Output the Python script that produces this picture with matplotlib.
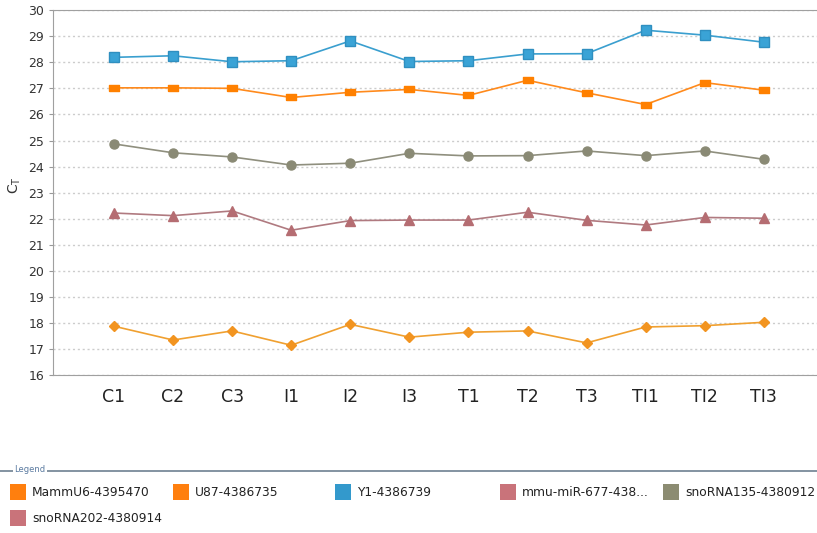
import numpy as np
import matplotlib.pyplot as plt
from matplotlib.patches import Rectangle
from matplotlib.lines import Line2D

samples = ["C1", "C2", "C3", "I1", "I2", "I3", "T1", "T2", "T3", "TI1", "TI2", "TI3"]

y1 = [28.19, 28.25, 28.02, 28.06, 28.82, 28.03, 28.06, 28.32, 28.33, 29.23, 29.04, 28.77]
u87 = [27.02, 27.02, 27.00, 26.65, 26.85, 26.96, 26.73, 27.31, 26.83, 26.38, 27.22, 26.93]
sno135 = [24.87, 24.53, 24.37, 24.06, 24.13, 24.51, 24.41, 24.42, 24.60, 24.42, 24.60, 24.28]
mir677 = [22.22, 22.12, 22.30, 21.56, 21.93, 21.95, 21.95, 22.25, 21.94, 21.76, 22.05, 22.02]
mammu6 = [17.88, 17.35, 17.70, 17.15, 17.95, 17.46, 17.65, 17.70, 17.24, 17.85, 17.90, 18.03]

legend_names = ["MammU6-4395470", "U87-4386735", "Y1-4386739",
                "mmu-miR-677-438...", "snoRNA135-4380912", "snoRNA202-4380914"]
legend_colors = ["#ff7f0e", "#ff7f0e", "#3399cc", "#c9737a", "#8c8c72", "#c9737a"]

x = np.arange(len(samples))

fig = plt.figure(figsize=(8.17, 5.33), dpi=100)
ax = fig.add_axes([0.065, 0.296, 0.935, 0.685])

ax.plot(x, y1, color="#3a9fcf", lw=1.2, marker="s", ms=6.5, mec="#2f8fc0", mfc="#3aa3d6")
# U87 uses flat rectangles instead of squares
flat = [(-1, -0.5), (1, -0.5), (1, 0.5), (-1, 0.5), (-1, -0.5)]
ax.plot(x, u87, color="#ff8a1c", lw=1.2, marker=flat, ms=7.5, mfc="#ff8000", mec="#ff8000")
ax.plot(x, sno135, color="#8f8f7e", lw=1.2, marker="o", ms=6.5, mfc="#8a8a75", mec="#8a8a75")
ax.plot(x, mir677, color="#b07a80", lw=1.2, marker="^", ms=6.5, mfc="#b56d72", mec="#b56d72")
ax.plot(x, mammu6, color="#f0a030", lw=1.2, marker="D", ms=5, mfc="#f29420", mec="#f29420")

ax.set_xlim(-1.03, 11.9)
ax.set_ylim(16, 30)
ax.set_yticks(range(16, 31))
ax.set_xticks(x)
ax.set_xticklabels(samples, fontsize=12.5, color="#222222")
ax.tick_params(axis="x", length=0, pad=9)
ax.tick_params(axis="y", length=3, color="#999999", labelsize=9, labelcolor="#333333")
ax.set_ylabel("C$_\\mathrm{T}$", fontsize=10, color="#333333")
ax.yaxis.set_label_coords(-0.04, 0.52)

for s in ["left", "bottom", "top"]:
    ax.spines[s].set_color("#a0a0a0")
ax.spines["right"].set_visible(False)
ax.grid(axis="y", color="#cccccc", linestyle=(0, (1.5, 2)), lw=1)
ax.set_axisbelow(True)

# legend frame along the bottom
W, H = 817, 533
fig.add_artist(Line2D([0.0, 1.0], [1 - 471 / H] * 2, transform=fig.transFigure,
                      color="#7a8a9a", lw=1.3))
fig.text(14 / W, 1 - 470 / H, "Legend", fontsize=6, color="#5a7aa0", va="center",
         bbox=dict(facecolor="white", edgecolor="none", pad=1))

col_x = [10, 173, 335, 500, 663, 10]
row_y = [492, 492, 492, 492, 492, 518]
for name, color, px, py in zip(legend_names, legend_colors, col_x, row_y):
    fig.add_artist(Rectangle((px / W, 1 - (py + 8) / H), 16 / W, 16 / H,
                             transform=fig.transFigure, facecolor=color, edgecolor="none"))
    fig.text((px + 22) / W, 1 - py / H, name, fontsize=8.8, color="#222222", va="center")

fig.savefig("out.png", dpi=100)
